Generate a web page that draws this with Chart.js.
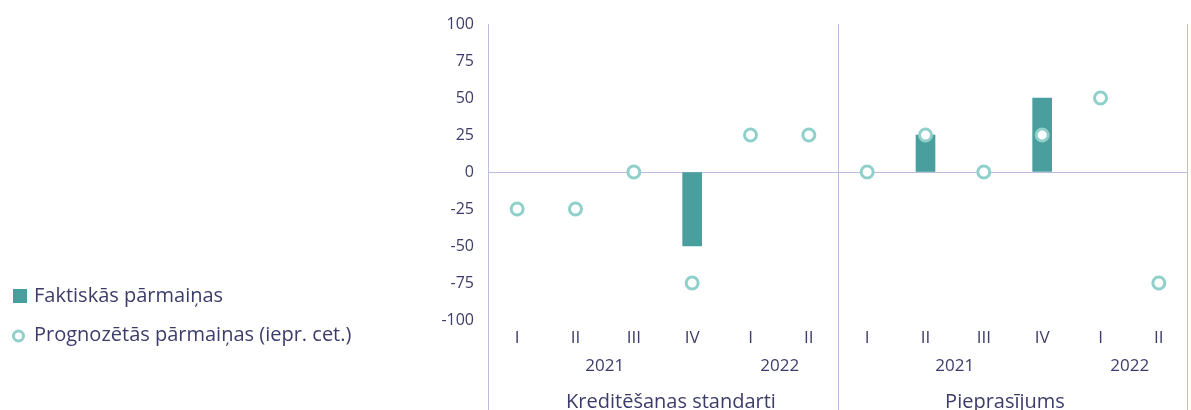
<!DOCTYPE html>
<html>
<head>
<meta charset="utf-8">
<script src="https://cdn.jsdelivr.net/npm/chart.js@4.4.1/dist/chart.umd.min.js"></script>
<style>
  html, body { margin: 0; padding: 0; background: #fff; }
  #wrap { width: 1191px; height: 410px; position: relative; }
</style>
</head>
<body>
<div id="wrap"><canvas id="myChart" width="1191" height="410"></canvas></div>
<script>
// quarter labels under each column
var quarters = ['I', 'II', 'III', 'IV', 'I', 'II', 'I', 'II', 'III', 'IV', 'I', 'II']
// year under its quarters: [label, first index, last index]
var years = [['2021', 0, 3], ['2022', 4, 5], ['2021', 6, 9], ['2022', 10, 11]]
// panel names: [label, first index, last index]
var groups = [['Kreditēšanas standarti', 0, 5], ['Pieprasījums', 6, 11]]

var actual = [null, null, null, -50, null, null, null, 25, null, 50, null, null]
var forecast = [-25, -25, 0, -75, 25, 25, 0, 25, 0, 25, 50, -75]

var txtColor = '#3c3c6b'
var lineColor = '#bcbce0'
var barColor = '#4a9e9e'
var dotColor = '#8fd0cb'
var font = '"Open Sans", sans-serif'

Chart.defaults.font.family = font
Chart.defaults.font.size = 16
Chart.defaults.color = txtColor

const ctx = document.getElementById('myChart');

// category labels, divider lines and legend
var extras = {
  id: 'extras',
  afterDraw(chart) {
    let c = chart.ctx
    let xs = chart.scales.x
    let area = chart.chartArea
    c.save()
    // vertical lines
    c.strokeStyle = lineColor
    c.lineWidth = 1
    let mid = (xs.getPixelForValue(5) + xs.getPixelForValue(6)) / 2
    let vx = [area.left, mid, area.right - 1]
    vx.forEach(x => {
      c.beginPath()
      c.moveTo(Math.round(x) + 0.5, area.top)
      c.lineTo(Math.round(x) + 0.5, chart.height)
      c.stroke()
    })
    c.fillStyle = txtColor
    c.font = '17px ' + font
    c.textAlign = 'center'
    c.textBaseline = 'middle'
    chart.data.labels.forEach((q, i) => {
      c.fillText(q, xs.getPixelForValue(i), area.bottom + 18)
    })
    years.forEach(y => {
      let x = (xs.getPixelForValue(y[1]) + xs.getPixelForValue(y[2])) / 2
      c.fillText(y[0], x, area.bottom + 46)
    })
    c.font = '20px ' + font
    let shift = [8, -8]
    groups.forEach((g, i) => {
      let x = (xs.getPixelForValue(g[1]) + xs.getPixelForValue(g[2])) / 2
      c.fillText(g[0], x + shift[i], area.bottom + 82)
    })
    // legend
    c.textAlign = 'left'
    c.fillStyle = barColor
    c.fillRect(13, 289, 14, 14)
    c.fillStyle = txtColor
    c.fillText(chart.data.datasets[0].label, 34, 296)
    c.beginPath()
    c.arc(18.5, 336, 5, 0, Math.PI * 2)
    c.strokeStyle = dotColor
    c.lineWidth = 3
    c.fillStyle = '#fff'
    c.fill()
    c.stroke()
    c.fillStyle = txtColor
    c.fillText(chart.data.datasets[1].label, 34, 335)
    c.restore()
  }
}

var chart = new Chart(ctx, {
  type: 'bar',
  data: {
    labels: quarters,
    datasets: [{
      label: 'Faktiskās pārmaiņas',
      data: actual,
      backgroundColor: barColor,
      barThickness: 19,
      order: 2
    }, {
      type: 'line',
      label: 'Prognozētās pārmaiņas (iepr. cet.)',
      data: forecast,
      showLine: false,
      pointRadius: 6,
      pointBorderWidth: 3,
      pointBorderColor: dotColor,
      pointBackgroundColor: '#fff',
      order: 1
    }]
  },
  options: {
    responsive: false,
    animation: false,
    layout: { autoPadding: false, padding: { top: 24, right: 3, left: 0, bottom: 0 } },
    plugins: { legend: { display: false }, tooltip: { enabled: false } },
    scales: {
      x: {
        grid: { display: false },
        border: { display: false },
        ticks: { display: false },
        afterFit(scale) { scale.height = 90 }
      },
      y: {
        min: -100,
        max: 100,
        ticks: { stepSize: 25, padding: 14 },
        border: { display: false },
        grid: {
          drawTicks: false,
          color: (g) => g.tick && g.tick.value === 0 ? lineColor : 'rgba(0,0,0,0)'
        },
        afterFit(scale) { scale.width = 488 }
      }
    }
  },
  plugins: [extras]
})
</script>
</body>
</html>
